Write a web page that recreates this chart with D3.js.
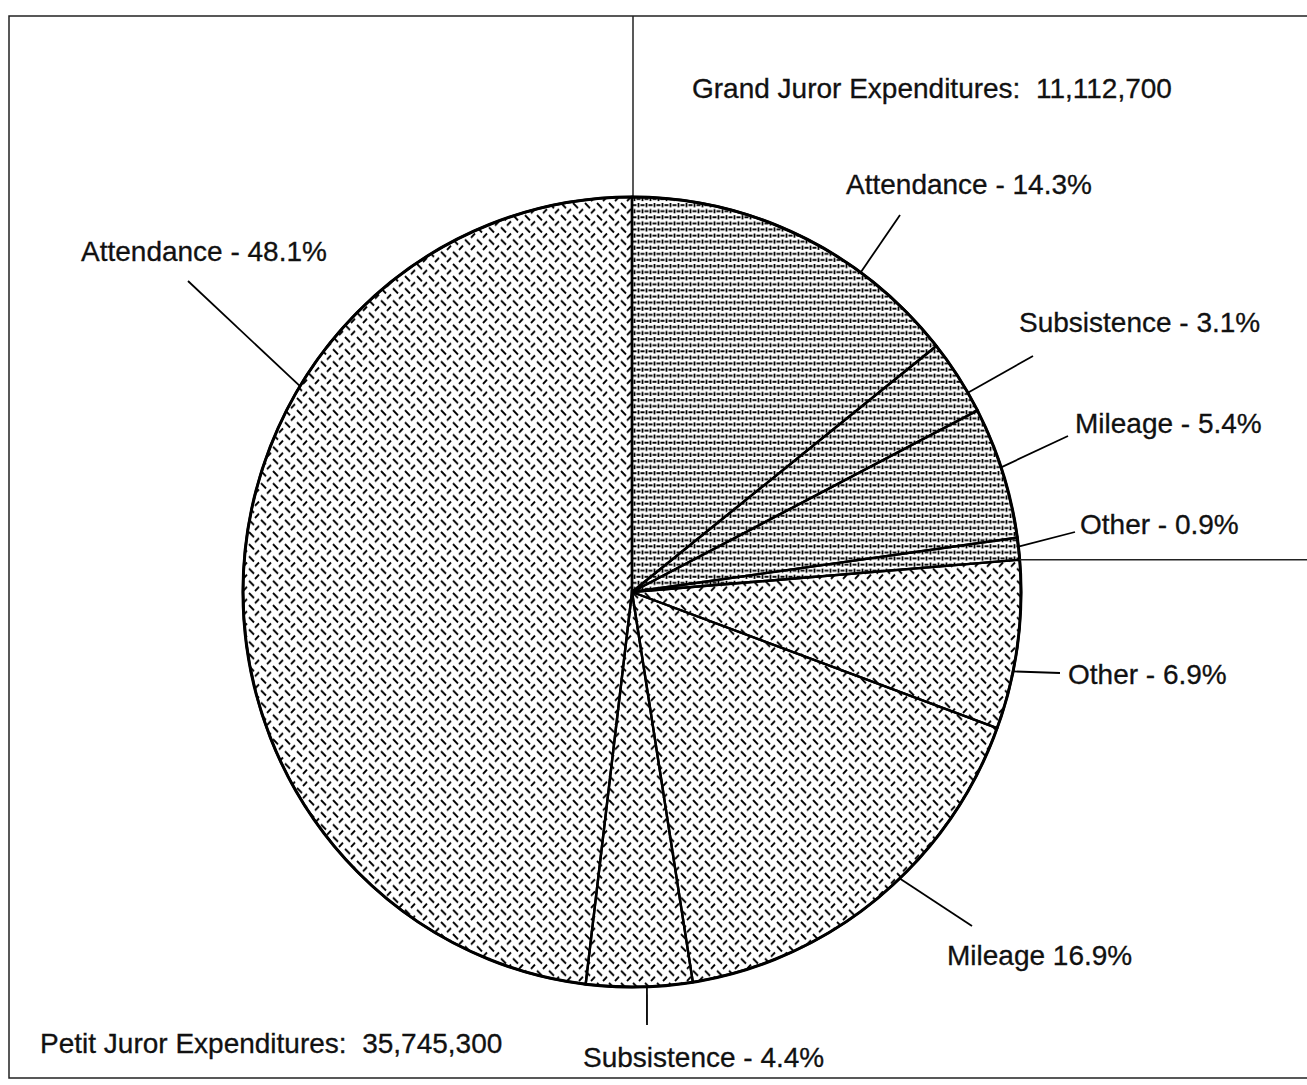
<!DOCTYPE html>
<html>
<head>
<meta charset="utf-8">
<script src="https://cdn.jsdelivr.net/npm/d3@7"></script>
<style>
  body { margin: 0; background: #fff; }
  svg { display: block; }
  text { font-family: "Liberation Sans", Arial, sans-serif; font-size: 28px; fill: #111; stroke: #111; stroke-width: 0.3px; }
</style>
</head>
<body>
<div id="chart"></div>
<script>
// jury expenditure shares (percent of total), clockwise from 12 o'clock
const groups = ['Grand Juror Expenditures', 'Petit Juror Expenditures'];
const groupTotals = ['11,112,700', '35,745,300'];
const categories = ['Attendance', 'Subsistence', 'Mileage', 'Other', 'Other', 'Mileage', 'Subsistence', 'Attendance'];
const sliceGroup = [0, 0, 0, 0, 1, 1, 1, 1];
const shares = [14.3, 3.1, 5.4, 0.9, 6.9, 16.9, 4.4, 48.1];
const labelText = ['Attendance - 14.3%', 'Subsistence - 3.1%', 'Mileage - 5.4%', 'Other - 0.9%',
  'Other - 6.9%', 'Mileage 16.9%', 'Subsistence - 4.4%', 'Attendance - 48.1%'];

// layout of labels (leader start angle in degrees, leader end, text anchor)
const leaderAngle = [36, 59.7, 71.6, 83.4, 101.6, 136.5, 177.8, 301.4];
const leaderEnd = [[900, 215], [1033, 356], [1068, 436], [1075, 532], [1060, 673], [972, 926], [647, 1025], [188, 281]];
const labelPos = [[846, 194], [1019, 332], [1075, 433], [1080, 534], [1068, 684], [947, 965], [583, 1067], [81, 261]];
const groupLabelPos = [[692, 98], [40, 1053]];

const W = 1307, H = 1085;
const cx = 632, cy = 592, r = 389, sy = 395 / 389;

const svg = d3.select('#chart').append('svg')
  .attr('width', W)
  .attr('height', H);

const defs = svg.append('defs');

// grand juror fill: little horizontal/vertical dashes
const pg = defs.append('pattern')
  .attr('id', 'grand')
  .attr('patternUnits', 'userSpaceOnUse')
  .attr('width', 8).attr('height', 12);
pg.append('path')
  .attr('d', 'M0.5,3H4.5 M6.5,1V5 M4.5,9H8 M0,9H0.5 M2.5,7V11')
  .attr('stroke', '#000').attr('stroke-width', 1.8).attr('fill', 'none');

// petit juror fill: diamond plate
const pp = defs.append('pattern')
  .attr('id', 'petit')
  .attr('patternUnits', 'userSpaceOnUse')
  .attr('width', 12).attr('height', 12);
pp.append('path')
  .attr('d', 'M1,1L6,6 M7,11L11,7')
  .attr('stroke', '#000').attr('stroke-width', 1.9).attr('fill', 'none');

// frame
const frame = svg.append('g').attr('stroke', '#222').attr('stroke-width', 1.5).attr('fill', 'none');
frame.append('path').attr('d', `M${W},16H9V1078H${W}`);
frame.append('line').attr('x1', 633).attr('x2', 633).attr('y1', 16).attr('y2', cy - r * sy);

const pie = d3.pie().sort(null).value(d => d)(shares);
const arc = d3.arc().innerRadius(0).outerRadius(r);

const g = svg.append('g').attr('transform', `translate(${cx},${cy}) scale(1,${sy})`);

g.selectAll('path.slice')
  .data(pie)
  .enter()
  .append('path')
  .attr('class', 'slice')
  .attr('d', arc)
  .attr('fill', (d, i) => sliceGroup[i] === 0 ? 'url(#grand)' : 'url(#petit)')
  .attr('stroke', '#000')
  .attr('stroke-width', 2.4)
  .attr('vector-effect', 'non-scaling-stroke');

g.append('circle')
  .attr('r', r)
  .attr('fill', 'none')
  .attr('stroke', '#000')
  .attr('stroke-width', 3)
  .attr('vector-effect', 'non-scaling-stroke');

// horizontal divider from grand/petit boundary to the right edge
const boundary = pie[3].endAngle;
const bp = d3.pointRadial(boundary, r);
svg.append('line')
  .attr('x1', cx + bp[0]).attr('y1', cy + bp[1] * sy)
  .attr('x2', W).attr('y2', cy + bp[1] * sy)
  .attr('stroke', '#222').attr('stroke-width', 1.6);

// leaders and labels
categories.forEach((c, i) => {
  const p = d3.pointRadial(leaderAngle[i] * Math.PI / 180, r);
  svg.append('line')
    .attr('x1', cx + p[0]).attr('y1', cy + p[1] * sy)
    .attr('x2', leaderEnd[i][0]).attr('y2', leaderEnd[i][1])
    .attr('stroke', '#000').attr('stroke-width', 1.8);
  svg.append('text')
    .attr('x', labelPos[i][0]).attr('y', labelPos[i][1])
    .text(labelText[i]);
});

groups.forEach((name, i) => {
  svg.append('text')
    .attr('x', groupLabelPos[i][0]).attr('y', groupLabelPos[i][1])
    .attr('xml:space', 'preserve')
    .style('white-space', 'pre')
    .text(name + ':  ' + groupTotals[i]);
});
</script>
</body>
</html>
